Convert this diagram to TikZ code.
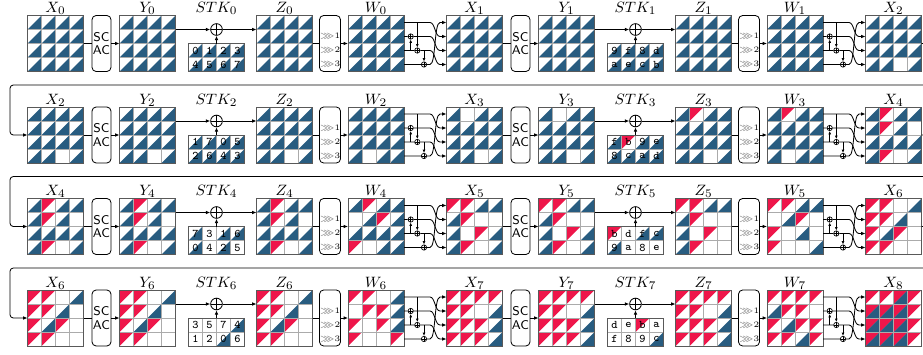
\documentclass[tikz,border=0pt]{standalone}
\usepackage{amsmath,amssymb}
\usetikzlibrary{positioning,arrows.meta,calc}

\definecolor{fwdblue}{RGB}{40,92,128}
\definecolor{bwdred}{RGB}{238,22,74}

\tikzset{
  cellline/.style={draw=black!33, line width=0.45pt},
  gridline/.style={draw=black!65, line width=0.6pt},
  gridbox/.style={minimum width=33.6pt, minimum height=33.6pt, inner sep=0pt, outer sep=0pt},
  tkbox/.style={minimum width=33.6pt, minimum height=16.8pt, inner sep=0pt, outer sep=0pt},
  lbl/.style={anchor=base, inner sep=0pt, font=\fontsize{9.4}{10}\selectfont},
  digit/.style={inner sep=0pt, font=\ttfamily\fontsize{7}{7}\selectfont},
  opbox/.style={draw, rounded corners=2.5pt, line width=0.5pt, minimum width=11.4pt,
    minimum height=33.6pt, inner sep=0pt, align=center, font=\sffamily\fontsize{7.6}{8}\selectfont},
  srbox/.style={draw, rounded corners=2.5pt, line width=0.5pt, minimum width=12.6pt,
    minimum height=33.6pt, inner sep=0pt},
  srtext/.style={inner sep=0pt, font=\fontsize{5}{6}\selectfont},
  xorop/.style={circle, draw, line width=0.5pt, minimum size=7pt, inner sep=0pt,
    path picture={\draw (path picture bounding box.north) -- (path picture bounding box.south)
      (path picture bounding box.west) -- (path picture bounding box.east);}},
  smallxor/.style={xorop, minimum size=3.2pt, line width=0.4pt},
  wire/.style={line width=0.5pt},
  tap/.style={-{Latex[length=2pt,width=1.7pt]}},
}

% 4x4 state: name, x, y, cell codes (0 none, 1 blue, 2 red, 3 both), label
\newcommand{\stategrid}[5]{%
  \begin{scope}[shift={(#2,#3)}, x=8.4pt, y=-8.4pt]
    \foreach \cv [count=\i from 0] in {#4} {
      \pgfmathtruncatemacro{\cx}{mod(\i,4)}
      \pgfmathtruncatemacro{\cy}{div(\i,4)}
      \ifodd\cv\relax \fill[fwdblue] (\cx,\cy+1) -- (\cx+1,\cy+1) -- (\cx+1,\cy) -- cycle;\fi
      \ifnum\cv>1\relax \fill[bwdred] (\cx,\cy) -- (\cx+1,\cy) -- (\cx,\cy+1) -- cycle;\fi
    }
    \foreach \rr in {1,2,3} {
      \draw[cellline] (\rr,0) -- (\rr,4);
      \draw[cellline] (0,\rr) -- (4,\rr);
    }
    \draw[gridline] (0,0) rectangle (4,4);
  \end{scope}
  \node[gridbox] (#1) at (#2+28,#3+28) {};
  \foreach \rr in {0,...,3} {
    \coordinate (#1-e\rr) at (#2+56,#3+7+14*\rr);
    \coordinate (#1-w\rr) at (#2,#3+7+14*\rr);
  }
  \node[lbl] (#1-lbl) at (#2+28,#3-3) {$#5$};
}

% 2x4 tweakey: name, x, y, code/digit pairs, label
\newcommand{\tkgrid}[5]{%
  \begin{scope}[shift={(#2,#3)}, x=8.4pt, y=-8.4pt]
    \foreach \cv/\dv [count=\i from 0] in {#4} {
      \pgfmathtruncatemacro{\cx}{mod(\i,4)}
      \pgfmathtruncatemacro{\cy}{div(\i,4)}
      \ifodd\cv\relax \fill[fwdblue] (\cx,\cy+1) -- (\cx+1,\cy+1) -- (\cx+1,\cy) -- cycle;\fi
      \ifnum\cv>1\relax \fill[bwdred] (\cx,\cy) -- (\cx+1,\cy) -- (\cx,\cy+1) -- cycle;\fi
      \node[digit] (#1-d\i) at (\cx+0.5,\cy+0.5) {\dv};
    }
    \foreach \rr in {1,2,3} \draw[cellline] (\rr,0) -- (\rr,2);
    \draw[cellline] (0,1) -- (4,1);
    \draw[gridline] (0,0) rectangle (4,2);
  \end{scope}
  \node[tkbox] (#1) at (#2+28,#3+14) {};
  \node[lbl] (#1-lbl) at (#2+28,#3-31) {$#5$};
}

% one round: index, x, top, X/Y codes, STK pairs, Z codes, W codes
\newcommand{\roundrow}[7]{%
  \stategrid{X#1}{#2}{#3}{#4}{X_{#1}}
  \node[opbox] (sc#1) at (#2+74,#3+28) {SC\\AC};
  \stategrid{Y#1}{#2+92}{#3}{#4}{Y_{#1}}
  \tkgrid{stk#1}{#2+161}{#3+28}{#5}{STK_{#1}}
  \node[xorop] (xor#1) at (#2+189,#3+14) {};
  \stategrid{Z#1}{#2+229}{#3}{#6}{Z_{#1}}
  \node[srbox] (sr#1) at (#2+302.5,#3+28) {};
  \foreach \rr in {1,2,3}
    \node[srtext] (sr#1-\rr) at (#2+302.5,#3+7+14*\rr) {\textcolor{black!60}{$\ggg$}\rr};
  \stategrid{W#1}{#2+320.5}{#3}{#7}{W_{#1}}
  \draw[wire] (X#1.east) -- (sc#1.west);
  \draw[wire,->] (sc#1.east) -- (Y#1.west);
  \draw[wire,->] (Y#1.east |- xor#1) -- (xor#1);
  \draw[wire,->] (stk#1.north) -- (xor#1);
  \draw[wire,->] (xor#1) -- (xor#1 -| Z#1.west);
  \draw[wire] (Z#1.east) -- (sr#1.west);
  \draw[wire,->] (sr#1.east) -- (W#1.west);
}

% MixColumns wiring from W to the next X
\newcommand{\mixwires}[2]{%
  \node[smallxor] (#1-m1) at ($(#1-e1)+(6.7,0)$) {};
  \node[smallxor] (#1-m2) at ($(#1-e2)+(13.3,0)$) {};
  \node[smallxor] (#1-m3) at ($(#1-e3)+(20,0)$) {};
  \draw[wire,->] (#1-e0) -- ($(#1-e0)+(26,0)$) .. controls ($(#1-e0)+(31,0)$) and ($(#1-e1)+(31,0)$) .. ($(#1-e1)+(36,0)$) -- (#2-w1);
  \draw[wire,->] (#1-e1) -- (#1-m1) -- ($(#1-e1)+(26,0)$) .. controls ($(#1-e1)+(31,0)$) and ($(#1-e2)+(31,0)$) .. ($(#1-e2)+(36,0)$) -- (#2-w2);
  \draw[wire,->] (#1-e2) -- (#1-m2) -- ($(#1-e2)+(26,0)$) .. controls ($(#1-e2)+(31,0)$) and ($(#1-e3)+(31,0)$) .. ($(#1-e3)+(36,0)$) -- (#2-w3);
  \draw[wire,->] (#1-e3) -- (#1-m3) -- ($(#1-e3)+(26,0)$) .. controls ($(#1-e3)+(32,0)$) and ($(#1-e0)+(30,0)$) .. ($(#1-e0)+(36,0)$) -- (#2-w0);
  \draw[wire,tap] (#1-m1 |- #1-e2) -- (#1-m1);
  \draw[wire,tap] (#1-m2 |- #1-e0) -- (#1-m2);
  \draw[wire,tap] (#1-m3 |- #1-e2) -- (#1-m3);
}

\begin{document}
\begin{tikzpicture}[x=0.6pt, y=-0.6pt, >={Latex[length=2.6pt,width=2.2pt]}]
  \useasboundingbox (0,0) rectangle (923,354);
  \clip (0,0) rectangle (923,354);

  % rounds 0 and 1
  \roundrow{0}{27.5}{15.5}{1,1,1,1,1,1,1,1,1,1,1,1,1,1,1,1}{1/0,1/1,1/2,1/3,1/4,1/5,1/6,1/7}{1,1,1,1,1,1,1,1,1,1,1,1,1,1,1,1}{1,1,1,1,1,1,1,1,1,1,1,1,1,1,1,1}
  \roundrow{1}{446.5}{15.5}{1,1,1,1,1,1,1,1,1,1,1,1,1,1,1,1}{1/9,1/f,1/8,1/d,1/a,1/e,1/c,1/b}{1,1,1,1,1,1,1,1,1,1,1,1,1,1,1,1}{1,1,1,1,1,1,1,1,1,1,1,1,1,1,1,1}
  \stategrid{X2p}{865.5}{15.5}{1,1,1,1,1,1,1,1,1,1,1,1,1,1,0,1}{X_{2}}
  \mixwires{W0}{X1}
  \mixwires{W1}{X2p}

  % rounds 2 and 3
  \roundrow{2}{27.5}{107}{1,1,1,1,1,1,1,1,1,1,1,1,1,1,0,1}{1/1,1/7,1/0,1/5,1/2,1/6,1/4,1/3}{1,1,1,1,1,1,1,1,1,1,1,1,1,1,0,1}{1,1,1,1,1,1,1,1,1,1,1,1,1,0,1,1}
  \roundrow{3}{446.5}{107}{1,0,1,1,1,1,1,1,1,1,1,1,1,1,0,1}{1/f,2/b,1/9,1/e,1/8,1/c,1/a,1/d}{1,2,1,1,1,1,1,1,1,1,1,1,1,1,0,1}{1,2,1,1,1,1,1,1,1,1,1,1,1,0,1,1}
  \stategrid{X4p}{865.5}{107}{1,2,1,1,1,2,1,0,1,1,1,1,1,2,0,1}{X_{4}}
  \mixwires{W2}{X3}
  \mixwires{W3}{X4p}
  \draw[wire,->,rounded corners=2pt] (X2p.east) -- ++(8,0) |- (10,85) |- (X2.west);

  % rounds 4 and 5
  \roundrow{4}{27.5}{198.5}{1,2,1,1,1,2,1,0,1,1,1,1,1,2,0,1}{1/7,0/3,1/1,1/6,1/0,0/4,1/2,0/5}{1,2,1,1,1,2,1,0,1,1,1,1,1,2,0,1}{1,2,1,1,0,1,2,1,1,1,1,1,2,0,1,1}
  \roundrow{5}{446.5}{198.5}{2,2,1,1,1,2,0,0,1,0,2,1,1,2,0,1}{2/b,0/d,1/f,1/c,1/9,0/a,0/8,0/e}{2,2,1,1,1,2,0,0,1,0,2,0,1,2,0,0}{2,2,1,1,0,1,2,0,2,0,1,0,2,0,0,1}
  \stategrid{X6p}{865.5}{198.5}{2,2,0,1,2,2,1,0,2,1,2,0,2,2,0,0}{X_{6}}
  \mixwires{W4}{X5}
  \mixwires{W5}{X6p}
  \draw[wire,->,rounded corners=2pt] (X4p.east) -- ++(8,0) |- (10,176.5) |- (X4.west);

  % rounds 6 and 7
  \roundrow{6}{27.5}{290}{2,2,0,1,2,2,1,0,2,1,2,0,2,2,0,0}{0/3,0/5,0/7,1/4,0/1,0/2,1/0,0/6}{2,2,0,1,2,2,1,0,2,1,2,0,2,2,0,0}{2,2,0,1,0,2,2,1,2,0,2,1,2,0,0,2}
  \roundrow{7}{446.5}{290}{2,2,2,2,2,2,0,1,2,2,2,1,2,2,2,1}{0/d,0/e,2/b,0/a,0/f,0/8,0/9,1/c}{2,2,2,2,2,2,0,1,2,2,2,1,2,2,2,1}{2,2,2,2,1,2,2,0,2,1,2,2,2,2,1,2}
  \stategrid{X8}{865.5}{290}{2,2,3,2,3,3,3,2,3,3,3,2,3,3,3,2}{X_{8}}
  \mixwires{W6}{X7}
  \mixwires{W7}{X8}
  \draw[wire,->,rounded corners=2pt] (X6p.east) -- ++(8,0) |- (10,268) |- (X6.west);
\end{tikzpicture}
\end{document}
